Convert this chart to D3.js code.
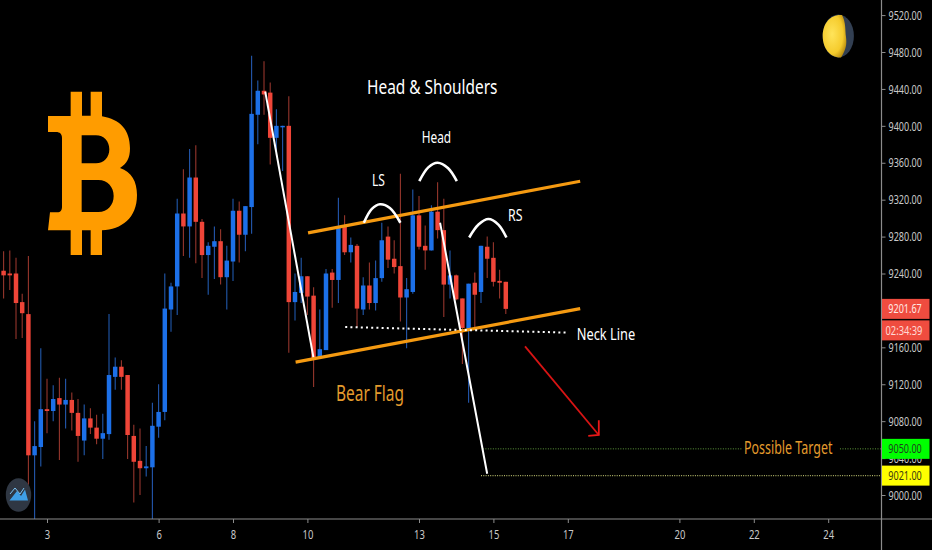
<!DOCTYPE html>
<html><head><meta charset="utf-8">
<script src="https://cdn.jsdelivr.net/npm/d3@7"></script>
<style>html,body{margin:0;padding:0;background:#000;overflow:hidden}svg{display:block}text{font-family:"Noto Sans",sans-serif}</style>
</head><body><div id="c"></div>
<script>
// Four-hour candles; first bar index is -7 relative to the bar at day 3
const firstBar = -7;
const opens  = [9243,9240,9240,9209,9196,9043,9052,9093,9091,9105,9098,9103,9089,9059,9083,9073,9061,9066,9128,9139,9130,9064,9037,9029,9030,9074,9090,9201,9226,9305,9291,9344,9296,9260,9269,9275,9236,9253,9308,9282,9312,9412,9438,9436,9387,9399,9400,9209,9219,9237,9216,9149,9157,9241,9233,9291,9263,9270,9201,9227,9208,9235,9280,9256,9248,9214,9220,9303,9270,9265,9307,9287,9228,9238,9213,9179,9230,9220,9269,9257,9232,9231];
const highs  = [9264,9265,9257,9218,9259,9080,9159,9126,9119,9127,9126,9111,9104,9098,9094,9087,9088,9196,9149,9146,9130,9076,9072,9053,9100,9120,9240,9230,9321,9353,9375,9379,9299,9274,9291,9288,9270,9321,9318,9313,9476,9449,9470,9447,9418,9400,9432,9240,9257,9237,9225,9201,9245,9245,9322,9303,9279,9272,9236,9252,9254,9295,9291,9276,9348,9235,9331,9324,9292,9314,9339,9321,9265,9239,9213,9229,9241,9270,9280,9274,9244,9231];
const lows   = [9213,9222,9169,9170,9011,8974,9031,9067,9080,9038,9072,9070,9036,9043,9066,9055,9039,9060,9114,9114,9039,8992,9000,9020,8974,9062,9081,9177,9195,9259,9257,9251,9235,9217,9234,9228,9201,9232,9252,9264,9283,9380,9412,9358,9372,9351,9154,9189,9208,9195,9117,9148,9157,9203,9208,9260,9252,9182,9195,9201,9200,9231,9246,9240,9188,9159,9218,9266,9244,9265,9278,9193,9213,9211,9142,9100,9182,9208,9235,9226,9213,9196];
const closes = [9238,9238,9208,9197,9043,9053,9093,9091,9104,9098,9103,9089,9064,9083,9073,9061,9067,9130,9139,9128,9065,9036,9029,9031,9075,9090,9202,9226,9305,9291,9344,9296,9260,9270,9275,9236,9254,9308,9282,9313,9413,9438,9434,9387,9400,9400,9209,9220,9237,9215,9147,9158,9240,9233,9291,9263,9271,9202,9227,9208,9235,9276,9255,9247,9214,9223,9303,9269,9265,9307,9287,9228,9238,9212,9181,9229,9217,9270,9256,9231,9230,9201.67];

// Axis labels
const dayLabels = [3,6,8,10,13,15,17,20,22,24];
const dayBars   = [0,18,30,42,60,72,84,102,114,126];
const priceTicks = [9000,9040,9080,9120,9160,9200,9240,9280,9320,9360,9400,9440,9480,9520];
const lastPrice = 9201.67, countdown = "02:34:39", target1 = 9050, target2 = 9021;

// Drawings as [bar, price]
const channelTop = [[42.1,9284],[86,9340]];
const channelBottom = [[40.1,9144],[86,9202]];
const neckLine = [[48.1,9182],[83.7,9176]];
const fallOne = [[35.2,9437],[43,9148]];
const fallTwo = [[63.4,9295],[71,9023]];
const arrowShaft = [[77.1,9161],[89,9065]];
const arrowHead = [[89,9081],[89,9065],[87.3,9064]];
const arcLS = [[51.1,9295],[52.4,9310],[53.7,9315],[55.3,9311],[57,9295]];
const arcHead = [[60.05,9340],[61.5,9355],[63,9360],[64.7,9354],[66.1,9340]];
const arcRS = [[68.1,9279],[69.6,9293],[71.2,9299],[72.8,9293],[74.1,9279]];
const targetOneA = [[70.3,9050],[112.1,9050]];
const targetOneB = [[127.9,9050],[134.5,9050]];
const targetTwo = [[70,9021],[134.5,9021]];

const W=932,H=550;
const x=d3.scaleLinear().domain([0,126]).range([47,828.2]);
const y=d3.scaleLinear().domain([9000,9520]).range([495,495-520*0.9229]);
const axisX=881.5, axisY=519;
const svg=d3.select("#c").append("svg").attr("width",W).attr("height",H).style("background","#000");
const defs=svg.append("defs");
defs.append("clipPath").attr("id","plot").append("rect").attr("width",axisX).attr("height",axisY);
const blur=defs.append("filter").attr("id","soft").attr("x","-20%").attr("y","-20%").attr("width","140%").attr("height","140%");
blur.append("feGaussianBlur").attr("stdDeviation",0.35);
const mg=defs.append("radialGradient").attr("id","moon").attr("cx","40%").attr("cy","45%").attr("r","65%");
mg.append("stop").attr("offset","0%").attr("stop-color","#ffe45a");
mg.append("stop").attr("offset","70%").attr("stop-color","#f5cb2c");
mg.append("stop").attr("offset","100%").attr("stop-color","#b98d10");

// Narrow a text horizontally to a given width, placing its left end at px
function condense(node,px,width){
 const k=width/node.getComputedTextLength();
 const yy=+node.getAttribute("y")||0;
 const dy=node.getAttribute("dy");
 node.setAttribute("x",0);node.setAttribute("y",0);
 node.setAttribute("transform",`translate(${px},${yy}) scale(${k},1)`);
 if(dy)node.setAttribute("dy",dy);
}

// Bitcoin logo
svg.append("path").attr("transform","translate(30,80) scale(0.3333)").attr("fill","#ff9c00").attr("fill-rule","evenodd")
 .attr("d","M122,35H156V107H182V35H216V109C270,118 300,150 300,205C300,235 290,252 270,264C305,275 321,305 321,345C321,415 275,448 216,451V525H182V451H156V525H122V451H54L60,397H82C92,397 96,390 96,380V175C96,162 90,156 78,156H54V108H122ZM155,166V250H198C222,250 238,232 238,208C238,184 222,166 198,166ZM155,300V396H205C234,396 251,374 251,348C251,322 234,300 205,300Z");

const candles=d3.range(opens.length).map(k=>({i:firstBar+k,o:opens[k],h:highs[k],l:lows[k],c:closes[k]}));
const bodyW=(x(1)-x(0))*0.72;
const plot=svg.append("g").attr("clip-path","url(#plot)");
const cg=plot.append("g").attr("filter","url(#soft)");
cg.selectAll("line").data(candles).join("line")
 .attr("x1",d=>x(d.i)).attr("x2",d=>x(d.i)).attr("y1",d=>y(d.h)).attr("y2",d=>y(d.l))
 .attr("stroke",d=>d.c>=d.o?"#2458ad":"#96362c").attr("stroke-width",1.1);
cg.selectAll("rect").data(candles).join("rect")
 .attr("x",d=>x(d.i)-bodyW/2).attr("width",bodyW)
 .attr("y",d=>y(Math.max(d.o,d.c))).attr("height",d=>Math.max(1.5,Math.abs(y(d.o)-y(d.c))))
 .attr("fill",d=>d.c>=d.o?"#1f6fe8":"#ef4538");

const line=d3.line().x(d=>x(d[0])).y(d=>y(d[1]));
const smooth=d3.line().x(d=>x(d[0])).y(d=>y(d[1])).curve(d3.curveCatmullRom);
const seg=(pts,col,w,extra)=>{const p=plot.append("path").attr("d",line(pts)).attr("fill","none").attr("stroke",col).attr("stroke-width",w);if(extra)extra(p);return p;};
[targetOneA,targetOneB].forEach(p=>seg(p,"#5f9c3c",1,s=>s.attr("stroke-dasharray","1 1.5")));
seg(targetTwo,"#b0b468",1.3,s=>s.attr("stroke-dasharray","1 1.3"));
seg(fallOne,"#fff",2);seg(fallTwo,"#fff",2);
seg(channelTop,"#f59a11",3.2);seg(channelBottom,"#f59a11",3.2);
seg(neckLine,"#fff",2,s=>s.attr("stroke-dasharray","2 3.2"));
seg(arrowShaft,"#d81414",1.8);
seg(arrowHead,"#e81818",1.8);
[arcLS,arcHead,arcRS].forEach(a=>plot.append("path").attr("d",smooth(a)).attr("fill","none").attr("stroke","#fff").attr("stroke-width",2.6));

// Axes
const gy=svg.append("g").attr("transform",`translate(${axisX},0)`).call(d3.axisRight(y).tickValues(priceTicks).tickSize(4).tickPadding(3).tickFormat(d3.format(".2f")));
const gx=svg.append("g").attr("transform",`translate(0,${axisY})`).call(d3.axisBottom(x).tickValues(dayBars).tickSize(4).tickPadding(7).tickFormat((d,i)=>dayLabels[i]));
[gy,gx].forEach(g=>{g.select(".domain").attr("stroke","#8c8c8c").attr("stroke-width",1.2);g.selectAll(".tick line").attr("stroke","#8c8c8c");g.selectAll("text").attr("fill","#c9c9c9").style("font-size","13px");});
gy.select(".domain").attr("d",`M0,0V${H}`);
gx.select(".domain").attr("d",`M0,0H${W}`);
gy.selectAll(".tick text").each(function(){condense(this,7,33.5);});
gx.selectAll(".tick text").attr("text-anchor","start").each(function(d){const w=String(dayLabels[dayBars.indexOf(d)]).length*5.4;condense(this,-w/2,w);});

// Price labels
const boxes=[
 {t:lastPrice.toFixed(2),cy:y(lastPrice),bg:"#ef4c3f",fg:"#ffe9e5",tx:axisX+6.8,w:33.5},
 {t:countdown,cy:y(lastPrice)+21.5,bg:"#ef4c3f",fg:"#ffd9d4",tx:axisX+4,w:37},
 {t:target1.toFixed(2),cy:y(target1),bg:"#00ff00",fg:"#1f3f1f",tx:axisX+6.8,w:33.5},
 {t:target2.toFixed(2),cy:y(target2),bg:"#ffff00",fg:"#3a3a10",tx:axisX+6.8,w:33.5}];
const bg=svg.append("g");
boxes.forEach(b=>{
 bg.append("rect").attr("x",axisX+0.5).attr("y",b.cy-10).attr("width",47.5).attr("height",20).attr("fill",b.bg);
 const t=bg.append("text").attr("y",b.cy+4.6).attr("fill",b.fg).style("font-size","13px").text(b.t);
 condense(t.node(),b.tx,b.w);
});

// Annotations
const labels=[
 {t:"Head & Shoulders",x:367,y:93.5,w:130.5,s:20,c:"#fff"},
 {t:"Head",x:421.7,y:143,w:29.5,s:17,c:"#fff"},
 {t:"LS",x:372,y:186,w:13,s:17,c:"#fff"},
 {t:"RS",x:508,y:220.5,w:14.5,s:17,c:"#fff"},
 {t:"Neck Line",x:576.7,y:339.5,w:58.5,s:17,c:"#fff"},
 {t:"Bear Flag",x:336,y:401,w:68,s:21,c:"#e39b2d"},
 {t:"Possible Target",x:744,y:454,w:88.5,s:18,c:"#e39b2d"}];
svg.append("g").selectAll("text").data(labels).join("text")
 .attr("y",d=>d.y).attr("fill",d=>d.c).style("font-size",d=>d.s+"px").text(d=>d.t)
 .each(function(d){condense(this,d.x,d.w);});

// Moon
const moon=svg.append("g");
moon.append("ellipse").attr("cx",838.3).attr("cy",36).attr("rx",15.6).attr("ry",21.5).attr("fill","#323f52");
moon.append("path").attr("d","M842,15C830,14 822.7,24 822.7,36C822.7,48 830,58 841,57.5C846,50 847,44 846,37C845,30 846,22 842,15Z").attr("fill","url(#moon)");

// Badge
const badge=svg.append("g");
badge.append("ellipse").attr("cx",18.5).attr("cy",495).attr("rx",12.7).attr("ry",16.8).attr("fill","#2f3743");
badge.append("path").attr("d","M9.5,500.5L17,491L21,496L25,489.5L28,500.5Z").attr("fill","#3f9fe6");
badge.append("path").attr("d","M10,494L15,488L20,494L24,488").attr("fill","none").attr("stroke","#7cc4f5").attr("stroke-width",1);
</script></body></html>
